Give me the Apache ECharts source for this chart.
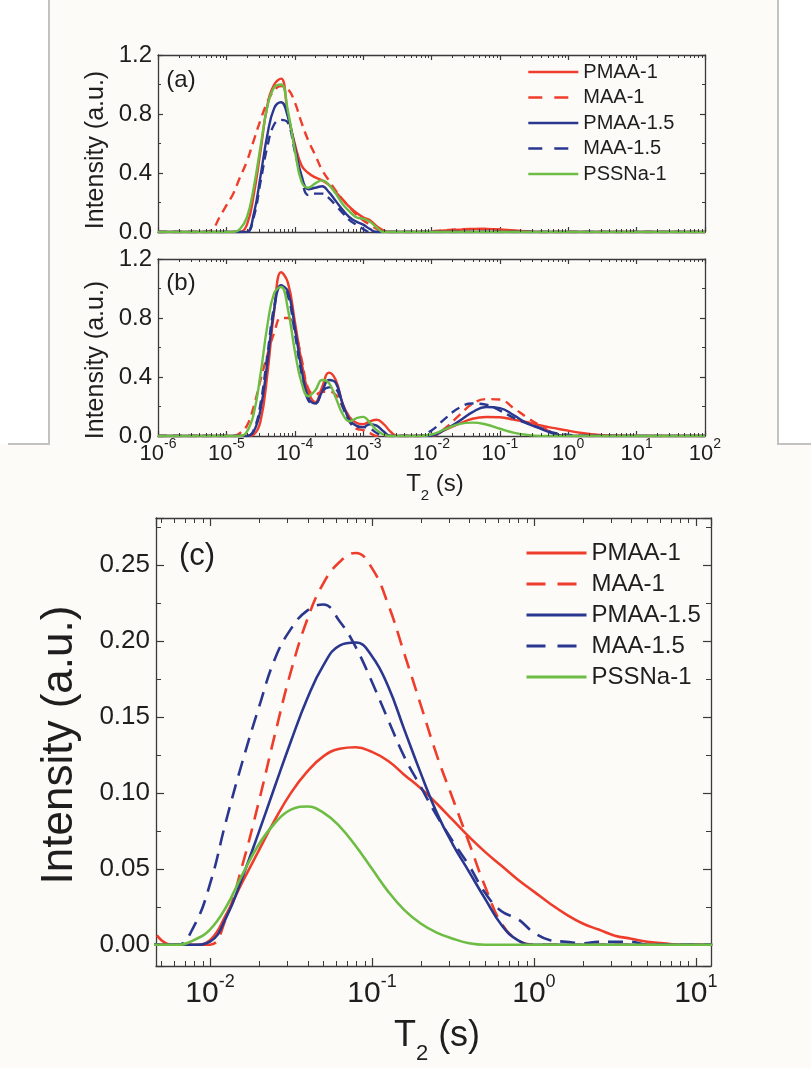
<!DOCTYPE html>
<html>
<head>
<meta charset="utf-8">
<script src="https://cdn.jsdelivr.net/npm/echarts@6/dist/echarts.min.js"></script>
<style>
html,body{margin:0;padding:0;background:#fdfbf8;}
#chart{width:811px;height:1068px;}
</style>
</head>
<body>
<div id="chart"></div>
<script>
// ---------------- DATA ----------------
const seriesNames = ['PMAA-1', 'MAA-1', 'PMAA-1.5', 'MAA-1.5', 'PSSNa-1'];

// T2 (s) sample positions for panels (a) and (b)
const tAB = [1e-6, 3.16e-6, 5.01e-6, 6.31e-6, 7.94e-6, 1e-5, 1.26e-5, 1.58e-5,
  2e-5, 2.51e-5, 3.16e-5, 3.98e-5, 5.01e-5, 6.31e-5, 7.94e-5, 1e-4, 1.26e-4, 1.58e-4, 2e-4, 2.51e-4,
  3.16e-4, 3.98e-4, 5.01e-4, 6.31e-4, 7.94e-4, 1e-3, 1.26e-3, 1.58e-3, 2e-3, 2.51e-3, 3.16e-3,
  3.98e-3, 6.31e-3, 0.01, 0.0158, 0.0251, 0.0398, 0.0631, 0.1, 0.158, 0.251, 0.398, 0.631, 1, 1.58, 2.51, 3.98,
  10, 100];

// panel (a)
const aPMAA1 = [0,0,0,0,0,0,0,0,
  0.05,0.25,0.55,0.86,1.0,1.04,0.80,0.60,0.45,0.40,0.37,0.35,0.32,0.27,0.22,0.17,0.13,0.10,0.08,0.04,0.01,0,0,
  0,0,0,0.01,0.015,0.02,0.02,0.018,0.01,0.005,0,0,0,0,0,0,
  0,0];
const aMAA1 = [0,0,0,0.02,0.10,0.18,0.26,0.37,
  0.48,0.62,0.76,0.88,0.96,0.99,0.97,0.88,0.74,0.62,0.52,0.42,0.35,0.28,0.22,0.17,0.12,0.08,0.05,0.02,0,0,0,
  0,0,0.005,0.012,0.018,0.02,0.02,0.015,0.008,0.003,0,0,0,0,0,0,
  0,0];
const aPMAA15 = [0,0,0,0,0,0,0,0,
  0,0.12,0.38,0.66,0.84,0.88,0.78,0.58,0.38,0.29,0.30,0.31,0.27,0.21,0.15,0.10,0.07,0.05,0.02,0,0,0,0,
  0,0,0,0,0,0,0,0,0,0,0,0,0,0,0,0,
  0,0];
const aMAA15 = [0,0,0,0,0,0,0,0,
  0,0.10,0.34,0.58,0.73,0.76,0.74,0.55,0.36,0.25,0.26,0.26,0.23,0.18,0.13,0.08,0.05,0.02,0,0,0,0,0,
  0,0,0,0,0,0,0,0,0,0,0,0,0,0,0,0,
  0,0];
const aPSSNa1 = [0,0,0,0,0,0,0,0.02,
  0.10,0.30,0.58,0.85,0.98,1.0,0.82,0.56,0.34,0.30,0.33,0.35,0.32,0.26,0.19,0.14,0.10,0.09,0.07,0.03,0,0,0,
  0,0,0,0,0,0,0,0,0,0,0,0,0,0,0,0,
  0,0];

// panel (b)
const bPMAA1 = [0,0,0,0,0,0,0,0,
  0,0.01,0.10,0.42,0.85,1.11,1.04,0.78,0.50,0.30,0.23,0.33,0.43,0.38,0.22,0.13,0.09,0.08,0.10,0.11,0.08,0.03,0,
  0,0,0.003,0.041,0.082,0.117,0.129,0.127,0.111,0.094,0.071,0.053,0.036,0.020,0.010,0.004,
  0,0];
const bMAA1 = [0,0,0,0,0,0,0,0.02,
  0.07,0.20,0.38,0.55,0.70,0.80,0.80,0.72,0.52,0.32,0.28,0.30,0.30,0.28,0.20,0.10,0.05,0.04,0.02,0,0,0,0,
  0,0,0,0.052,0.138,0.218,0.25,0.247,0.19,0.125,0.068,0.014,0,0,0,0,
  0,0];
const bPMAA15 = [0,0,0,0,0,0,0,0,
  0,0.03,0.18,0.50,0.86,1.02,0.98,0.74,0.45,0.26,0.22,0.30,0.38,0.36,0.22,0.11,0.07,0.06,0.08,0.07,0.03,0,0,
  0,0,0.002,0.044,0.10,0.162,0.197,0.189,0.142,0.086,0.049,0.013,0,0,0,0,
  0,0];
const bMAA15 = [0,0,0,0,0,0,0,0,
  0,0.04,0.22,0.55,0.88,1.02,0.95,0.70,0.42,0.24,0.22,0.30,0.33,0.32,0.20,0.10,0.06,0.06,0.05,0.02,0,0,0,
  0,0,0.038,0.118,0.19,0.22,0.212,0.172,0.124,0.085,0.053,0.021,0.008,0.002,0.002,0,
  0,0];
const bPSSNa1 = [0,0,0,0,0,0,0,0,
  0.03,0.15,0.42,0.75,0.97,1.01,0.86,0.58,0.36,0.27,0.31,0.38,0.36,0.26,0.15,0.10,0.12,0.13,0.09,0.04,0.01,0,0,
  0,0,0.01,0.046,0.081,0.091,0.078,0.049,0.023,0.008,0.001,0,0,0,0,0,
  0,0];

// panel (c)
const tC = [0.00398,0.00501,0.00631,0.00794,0.01,0.0126,0.0158,0.02,0.0251,0.0316,0.0398,0.0501,0.0631,0.0794,
  0.1,0.126,0.158,0.2,0.251,0.316,0.398,0.501,0.631,0.794,1,1.26,1.58,2,2.51,3.16,3.98,5.01,6.31,7.94,10,12.6];
const cPMAA1 = [0,0,0,0,0.003,0.020,0.041,0.062,0.082,0.100,0.114,0.124,0.129,0.130,0.127,0.121,0.112,0.103,
  0.093,0.082,0.071,0.061,0.052,0.043,0.035,0.027,0.020,0.014,0.010,0.006,0.004,0.002,0.001,0,0,0];
const cMAA1 = [0.02,0.003,0,0,0,0.018,0.052,0.094,0.138,0.18,0.214,0.238,0.252,0.258,0.248,0.224,0.192,0.158,
  0.125,0.096,0.067,0.038,0.014,0.003,0,0,0,0,0,0,0,0,0,0,0,0];
const cPMAA15 = [0,0,0,0,0.002,0.018,0.044,0.074,0.104,0.134,0.162,0.184,0.197,0.199,0.190,0.170,0.142,0.113,
  0.087,0.066,0.048,0.030,0.013,0.003,0,0,0,0,0,0,0,0,0,0,0,0];
const cMAA15 = [0,0,0,0.012,0.040,0.082,0.120,0.156,0.188,0.208,0.220,0.224,0.213,0.196,0.173,0.148,0.124,0.104,
  0.085,0.068,0.052,0.034,0.022,0.017,0.008,0.003,0.002,0.001,0.002,0.002,0.002,0,0,0,0,0];
const cPSSNa1 = [0,0,0,0.003,0.01,0.025,0.046,0.066,0.080,0.089,0.091,0.087,0.078,0.065,0.050,0.035,0.023,0.014,
  0.008,0.004,0.001,0,0,0,0,0,0,0,0,0,0,0,0,0,0,0];

// axis ranges / ticks
const abXRange = [1e-6, 1e2];
const abYTicks = [0, 0.4, 0.8, 1.2];
const cXRange = [0.00464, 12.4];
const cYRange = [-0.014, 0.281];

// ---------------- STYLE ----------------
const FONT = "'Liberation Sans', Arial, Helvetica, sans-serif";
const AXIS = '#3a3a3a';
const TXT = '#1e1e1e';
const COLORS = {'PMAA-1':'#ee3d2a','MAA-1':'#ee3d2a','PMAA-1.5':'#29378f','MAA-1.5':'#29378f','PSSNa-1':'#6dbd45'};
const DASHED = {'MAA-1':true,'MAA-1.5':true};

function pairs(T, V){ return T.map((t, i) => [t, V[i]]); }
function logMinor(lo, hi){
  const out = [];
  for (let e = -7; e <= 3; e++) for (let m = 2; m <= 9; m++) {
    const v = m * Math.pow(10, e);
    if (v > lo && v < hi) out.push([v, 0]);
  }
  return out;
}

const series = [];
function addPanel(T, vals, idx, width, dash){
  seriesNames.forEach((n, k) => {
    series.push({
      type:'line', name:n, xAxisIndex:idx, yAxisIndex:idx,
      data: pairs(T, vals[k]), symbol:'none', showSymbol:false,
      smooth:0.45, clip:true, animation:false,
      lineStyle:{color:COLORS[n], width:width, type: DASHED[n] ? dash : 'solid'},
      itemStyle:{color:COLORS[n]}, emphasis:{disabled:true}
    });
  });
}
addPanel(tAB, [aPMAA1, aMAA1, aPMAA15, aMAA15, aPSSNa1], 0, 2.4, [9, 6]);
addPanel(tAB, [bPMAA1, bMAA1, bPMAA15, bMAA15, bPSSNa1], 2, 2.4, [9, 6]);
addPanel(tC, [cPMAA1, cMAA1, cPMAA15, cMAA15, cPSSNa1], 4, 2.6, [15, 9]);

function tickSeries(idx, ticks, len){
  return {
    type:'custom', name:'_minor' + idx, xAxisIndex:idx, yAxisIndex:idx, data:ticks,
    silent:true, animation:false, clip:false, z:5,
    renderItem:(params, api) => {
      const p = api.coord([api.value(0), api.value(1)]);
      const cs = params.coordSys;
      const x = Math.round(p[0]) + 0.5;
      return {type:'group', children:[
        {type:'line', shape:{x1:x, y1:cs.y + cs.height, x2:x, y2:cs.y + cs.height - len}, style:{stroke:AXIS, lineWidth:1}},
        {type:'line', shape:{x1:x, y1:cs.y, x2:x, y2:cs.y + len}, style:{stroke:AXIS, lineWidth:1}}
      ]};
    }
  };
}
series.push(tickSeries(0, logMinor(abXRange[0], abXRange[1]), 3));
series.push(tickSeries(2, logMinor(abXRange[0], abXRange[1]), 3));
series.push(tickSeries(4, logMinor(cXRange[0], cXRange[1]), 5));

function expLabel(v){
  const e = Math.round(Math.log10(v));
  return '{b|10}{s|' + e + '}';
}

function xAx(grid, range, pos, labels, tickLen, fs, ss, lh, margin){
  return {
    type:'log', logBase:10, gridIndex:grid, position:pos, min:range[0], max:range[1],
    axisLine:{show:true, onZero:false, lineStyle:{color:AXIS, width:1.3}},
    axisTick:{show:true, inside:true, length:tickLen, lineStyle:{color:AXIS, width:1.2}},
    minorTick:{show:false}, splitLine:{show:false},
    axisLabel: labels ? {
      show:true, margin:margin, formatter:expLabel, showMinLabel: labels === 'all',
      showMaxLabel: labels === 'all', color:TXT, fontFamily:FONT,
      rich:{
        b:{fontSize:fs, lineHeight:lh, verticalAlign:'bottom', fontFamily:FONT, color:TXT},
        s:{fontSize:ss, lineHeight:ss, verticalAlign:'top', fontFamily:FONT, color:TXT}
      }
    } : {show:false}
  };
}
function yAx(grid, min, max, interval, pos, labels, tickLen, minorLen, fs, digits){
  const o = {
    type:'value', gridIndex:grid, position:pos, min:min, max:max,
    axisLine:{show:true, onZero:false, lineStyle:{color:AXIS, width:1.3}},
    axisTick:{show:true, inside:true, length:tickLen, lineStyle:{color:AXIS, width:1.2}},
    minorTick:{show:true, splitNumber:2, length:minorLen, lineStyle:{color:AXIS, width:1}},
    splitLine:{show:false},
    axisLabel: labels ? {show:true, margin:6, fontSize:fs, fontFamily:FONT, color:TXT,
      showMinLabel: digits === 1, showMaxLabel: digits === 1,
      formatter: v => v.toFixed(digits)} : {show:false}
  };
  if (interval) o.interval = interval;
  return o;
}

const legendBase = (left, top, iw, gap, fs, lh, dash, lw) => ({
  orient:'vertical', left:left, top:top, padding:0, itemWidth:iw, itemHeight:14, itemGap:gap,
  selectedMode:false,
  textStyle:{fontSize:fs, lineHeight:lh, fontFamily:FONT, color:TXT},
  data: seriesNames.map(n => ({name:n,
    lineStyle:{color:COLORS[n], width:lw, type: DASHED[n] ? dash : 'solid'},
    itemStyle:{color:'rgba(0,0,0,0)', opacity:0, borderWidth:0}}))
});

function richT(x, y, fs, subFs, lh){
  return {type:'text', x:x, y:y, silent:true, style:{
    text:'{t|T}{s|2}{t| (s)}', align:'center', verticalAlign:'top', textAlign:'center', textVerticalAlign:'top',
    rich:{
      t:{fontSize:fs, lineHeight:lh, verticalAlign:'top', fontFamily:FONT, fill:TXT, color:TXT},
      s:{fontSize:subFs, lineHeight:lh, verticalAlign:'bottom', fontFamily:FONT, fill:TXT, color:TXT}
    }
  }};
}
function txt(x, y, s, fs, rot){
  return {type:'text', x:x, y:y, rotation:rot || 0, silent:true, style:{
    text:s, fontSize:fs, fontFamily:FONT, fill:TXT, align:'center', verticalAlign:'middle',
    textAlign:'center', textVerticalAlign:'middle'}};
}

const option = {
  animation:false,
  backgroundColor:'#fdfbf8',
  grid:[
    {left:158, top:55, width:547, height:177, outerBoundsMode:'none'},
    {left:158, top:259, width:547, height:177, outerBoundsMode:'none'},
    {left:156, top:518, width:555, height:448, outerBoundsMode:'none'}
  ],
  xAxis:[
    xAx(0, abXRange, 'bottom', false, 5),
    xAx(0, abXRange, 'top', false, 5),
    xAx(1, abXRange, 'bottom', 'all', 5, 22, 14, 28, 1),
    xAx(1, abXRange, 'top', false, 5),
    xAx(2, cXRange, 'bottom', 'inner', 8, 30, 18, 36, 7),
    xAx(2, cXRange, 'top', false, 8)
  ],
  yAxis:[
    yAx(0, abYTicks[0], abYTicks[3], abYTicks[1], 'left', true, 5, 3, 24, 1),
    yAx(0, abYTicks[0], abYTicks[3], abYTicks[1], 'right', false, 5, 3, 24, 1),
    yAx(1, abYTicks[0], abYTicks[3], abYTicks[1], 'left', true, 5, 3, 24, 1),
    yAx(1, abYTicks[0], abYTicks[3], abYTicks[1], 'right', false, 5, 3, 24, 1),
    yAx(2, cYRange[0], cYRange[1], null, 'left', true, 8, 5, 26, 2),
    yAx(2, cYRange[0], cYRange[1], null, 'right', false, 8, 5, 26, 2)
  ],
  legend:[
    legendBase(527, 61, 50, 3.5, 20, 22, [14, 12], 2.6),
    legendBase(525, 540, 60, 5, 24, 26, [19, 12], 3)
  ],
  series:series,
  graphic:[
    {type:'rect', shape:{x:0, y:0, width:49, height:444}, style:{fill:'#ffffff'}, silent:true, z:-10},
    {type:'rect', shape:{x:778, y:0, width:33, height:444}, style:{fill:'#ffffff'}, silent:true, z:-10},
    {type:'polyline', shape:{points:[[49,0],[49,444],[8,444]]}, style:{stroke:'#c2c2c2', lineWidth:2, fill:null}, silent:true},
    {type:'polyline', shape:{points:[[778,0],[778,444],[811,444]]}, style:{stroke:'#c2c2c2', lineWidth:2, fill:null}, silent:true},
    txt(181, 80, '(a)', 24),
    txt(181, 283, '(b)', 24),
    txt(197, 556, '(c)', 31),
    txt(96, 150, 'Intensity (a.u.)', 25, Math.PI / 2),
    txt(96, 360, 'Intensity (a.u.)', 25, Math.PI / 2),
    txt(60, 745, 'Intensity (a.u.)', 44, Math.PI / 2),
    richT(435, 472, 24, 15, 31),
    richT(437, 1018, 36, 22, 47)
  ]
};

const chart = echarts.init(document.getElementById('chart'), null, {renderer:'canvas'});
chart.setOption(option);
</script>
</body>
</html>
